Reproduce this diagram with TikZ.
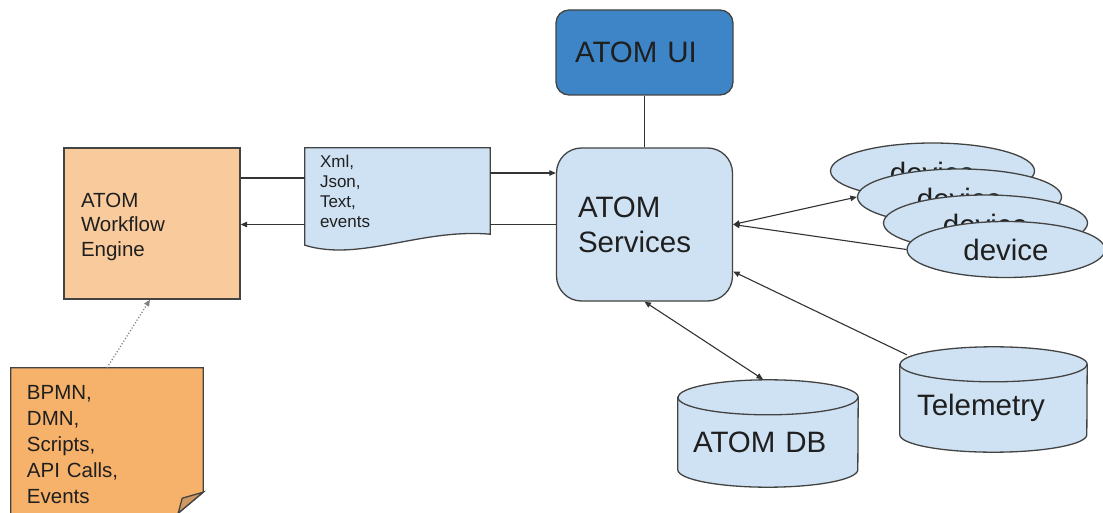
\documentclass[tikz,border=0pt]{standalone}
\usepackage{fontspec}
\setmainfont{Liberation Sans}
\usetikzlibrary{shapes.geometric,arrows.meta,calc}
\pgfdeclarelayer{background}
\pgfsetlayers{background,main}
\definecolor{uiblue}{HTML}{3D85C6}
\definecolor{lightblue}{HTML}{CFE2F3}
\definecolor{lightorange}{HTML}{F9CB9C}
\definecolor{noteorange}{HTML}{F6B26B}
\definecolor{foldorange}{HTML}{CF9A62}
\definecolor{edgecol}{HTML}{434343}
\definecolor{wirecol}{HTML}{333333}
\definecolor{txt}{HTML}{1F1F1F}
\begin{document}
\begin{tikzpicture}[x=1pt,y=1pt,
  shapeline/.style={draw=edgecol, line width=1.3pt},
  boxnode/.style={shapeline, inner sep=0pt, align=left, text=txt},
  plainnode/.style={inner sep=0pt, align=left, text=txt},
  devnode/.style={ellipse, shapeline, fill=lightblue, inner sep=0pt, minimum width=204pt, minimum height=56pt, text=txt, font=\fontsize{29.5}{35}\selectfont},
  lowtext/.style={text height=25.5pt, text depth=0pt},
  wire/.style={draw=wirecol, line width=1.1pt},
  tip/.style={-{Triangle[length=6.5pt,width=5.5pt]}},
  tiptwo/.style={{Triangle[length=6.5pt,width=5.5pt]}-{Triangle[length=6.5pt,width=5.5pt]}},
  bigfont/.style={font=\fontsize{29.5}{35}\selectfont},
  midfont/.style={font=\fontsize{20.5}{24.5}\selectfont},
  notefont/.style={font=\fontsize{20.5}{26}\selectfont},
  smallfont/.style={font=\fontsize{17}{20}\selectfont}
]
\useasboundingbox (0,0) rectangle (1103,-513);

% main boxes
\node[boxnode, bigfont, fill=uiblue, rounded corners=13pt, minimum width=177pt, minimum height=85pt, text width=139pt] (ui) at (644.5,-52.5) {ATOM UI};
\node[boxnode, bigfont, fill=lightblue, rounded corners=25pt, minimum width=176pt, minimum height=153pt, text width=133pt] (sv) at (644.5,-224.5) {ATOM\\Services};
\node[boxnode, midfont, fill=lightorange, minimum width=176pt, minimum height=151pt, text width=142pt] (wf) at (152,-223.5) {\rule{0pt}{20.7pt}ATOM\\Workflow\\Engine};

% document, note, cylinders (text nodes; outlines on background layer)
\node[plainnode, smallfont, minimum width=185pt, minimum height=86pt, text width=155pt] (doc) at (397.5,-191) {Xml,\\Json,\\Text,\\events};
\node[plainnode, notefont, minimum width=192pt, minimum height=146.5pt, text width=160pt] (note) at (107,-441.25) {\rule{0pt}{19.7pt}BPMN,\\DMN,\\Scripts,\\API Calls,\\Events};
\node[plainnode, bigfont, minimum width=187pt, minimum height=87.5pt, text width=153pt] (tel) at (993.5,-408.25) {Telemetry};
\node[plainnode, bigfont, minimum width=180pt, minimum height=89.5pt, text width=150pt] (db) at (768,-442.25) {ATOM DB};

\begin{pgfonlayer}{background}
  \path[shapeline, fill=lightblue] (doc.north west) -- (doc.north east) -- (doc.south east)
     .. controls ($(doc.south east)+(-70,6)$) and ($(doc.south west)+(55,-28)$) .. ([yshift=-11pt]doc.south west) -- cycle;
  \path[shapeline, fill=noteorange] (note.north west) -- (note.north east) -- ([yshift=22.5pt]note.south east)
     -- ([xshift=-25pt,yshift=1.5pt]note.south east) -- ([xshift=-25pt]note.south east) -- (note.south west) -- cycle;
  \path[shapeline, fill=foldorange] ([yshift=22.5pt]note.south east) -- ([xshift=-21pt,yshift=16.5pt]note.south east)
     -- ([xshift=-25pt,yshift=1.5pt]note.south east) -- cycle;
  \path[shapeline, fill=lightblue] (tel.north west) -- ([yshift=17.5pt]tel.south west)
     arc[start angle=180,end angle=360,x radius=93.5pt,y radius=17.5pt] -- (tel.north east)
     arc[start angle=0,end angle=180,x radius=93.5pt,y radius=17.5pt] -- cycle;
  \draw[shapeline] (tel.north west) arc[start angle=180,end angle=360,x radius=93.5pt,y radius=17.5pt];
  \path[shapeline, fill=lightblue] (db.north west) -- ([yshift=17.5pt]db.south west)
     arc[start angle=180,end angle=360,x radius=90pt,y radius=17.5pt] -- (db.north east)
     arc[start angle=0,end angle=180,x radius=90pt,y radius=17.5pt] -- cycle;
  \draw[shapeline] (db.north west) arc[start angle=180,end angle=360,x radius=90pt,y radius=17.5pt];
\end{pgfonlayer}

% devices
\node[devnode, lowtext] (dev1) at (932.5,-171) {device};
\node[devnode, lowtext] (dev2) at (959.5,-197) {device};
\node[devnode, lowtext] (dev3) at (985.5,-223) {device};
\node[devnode, minimum width=198pt] (dev4) at (1006,-249.5) {device};

% connectors
\coordinate (wfup) at ([yshift=45.5pt]wf.east);
\coordinate (docup) at ([yshift=18pt]doc.east);
\draw[wire] (wfup) -- (wfup -| doc.west);
\draw[wire, tip] (docup) -- (docup -| sv.west);
\draw[wire] (sv.west) -- (sv.west -| doc.east);
\draw[wire, tip] (sv.west -| doc.west) -- (sv.west -| wf.east);
\draw[wire] (ui.south) -- (sv.north);
\draw[wire, draw=gray, dotted, line width=1.3pt, tip] (note.north) -- ([xshift=-2pt]wf.south);
\draw[wire, tiptwo] (sv.east) -- (dev2.west);
\draw[wire, tip] (dev4.west) -- (sv.east);
\draw[wire, tip] ([xshift=7pt,yshift=9.5pt]tel.north west) -- ([yshift=-47pt]sv.east);
\draw[wire, tiptwo] (sv.south) -- ([xshift=-5pt,yshift=18pt]db.north);
\end{tikzpicture}
\end{document}
